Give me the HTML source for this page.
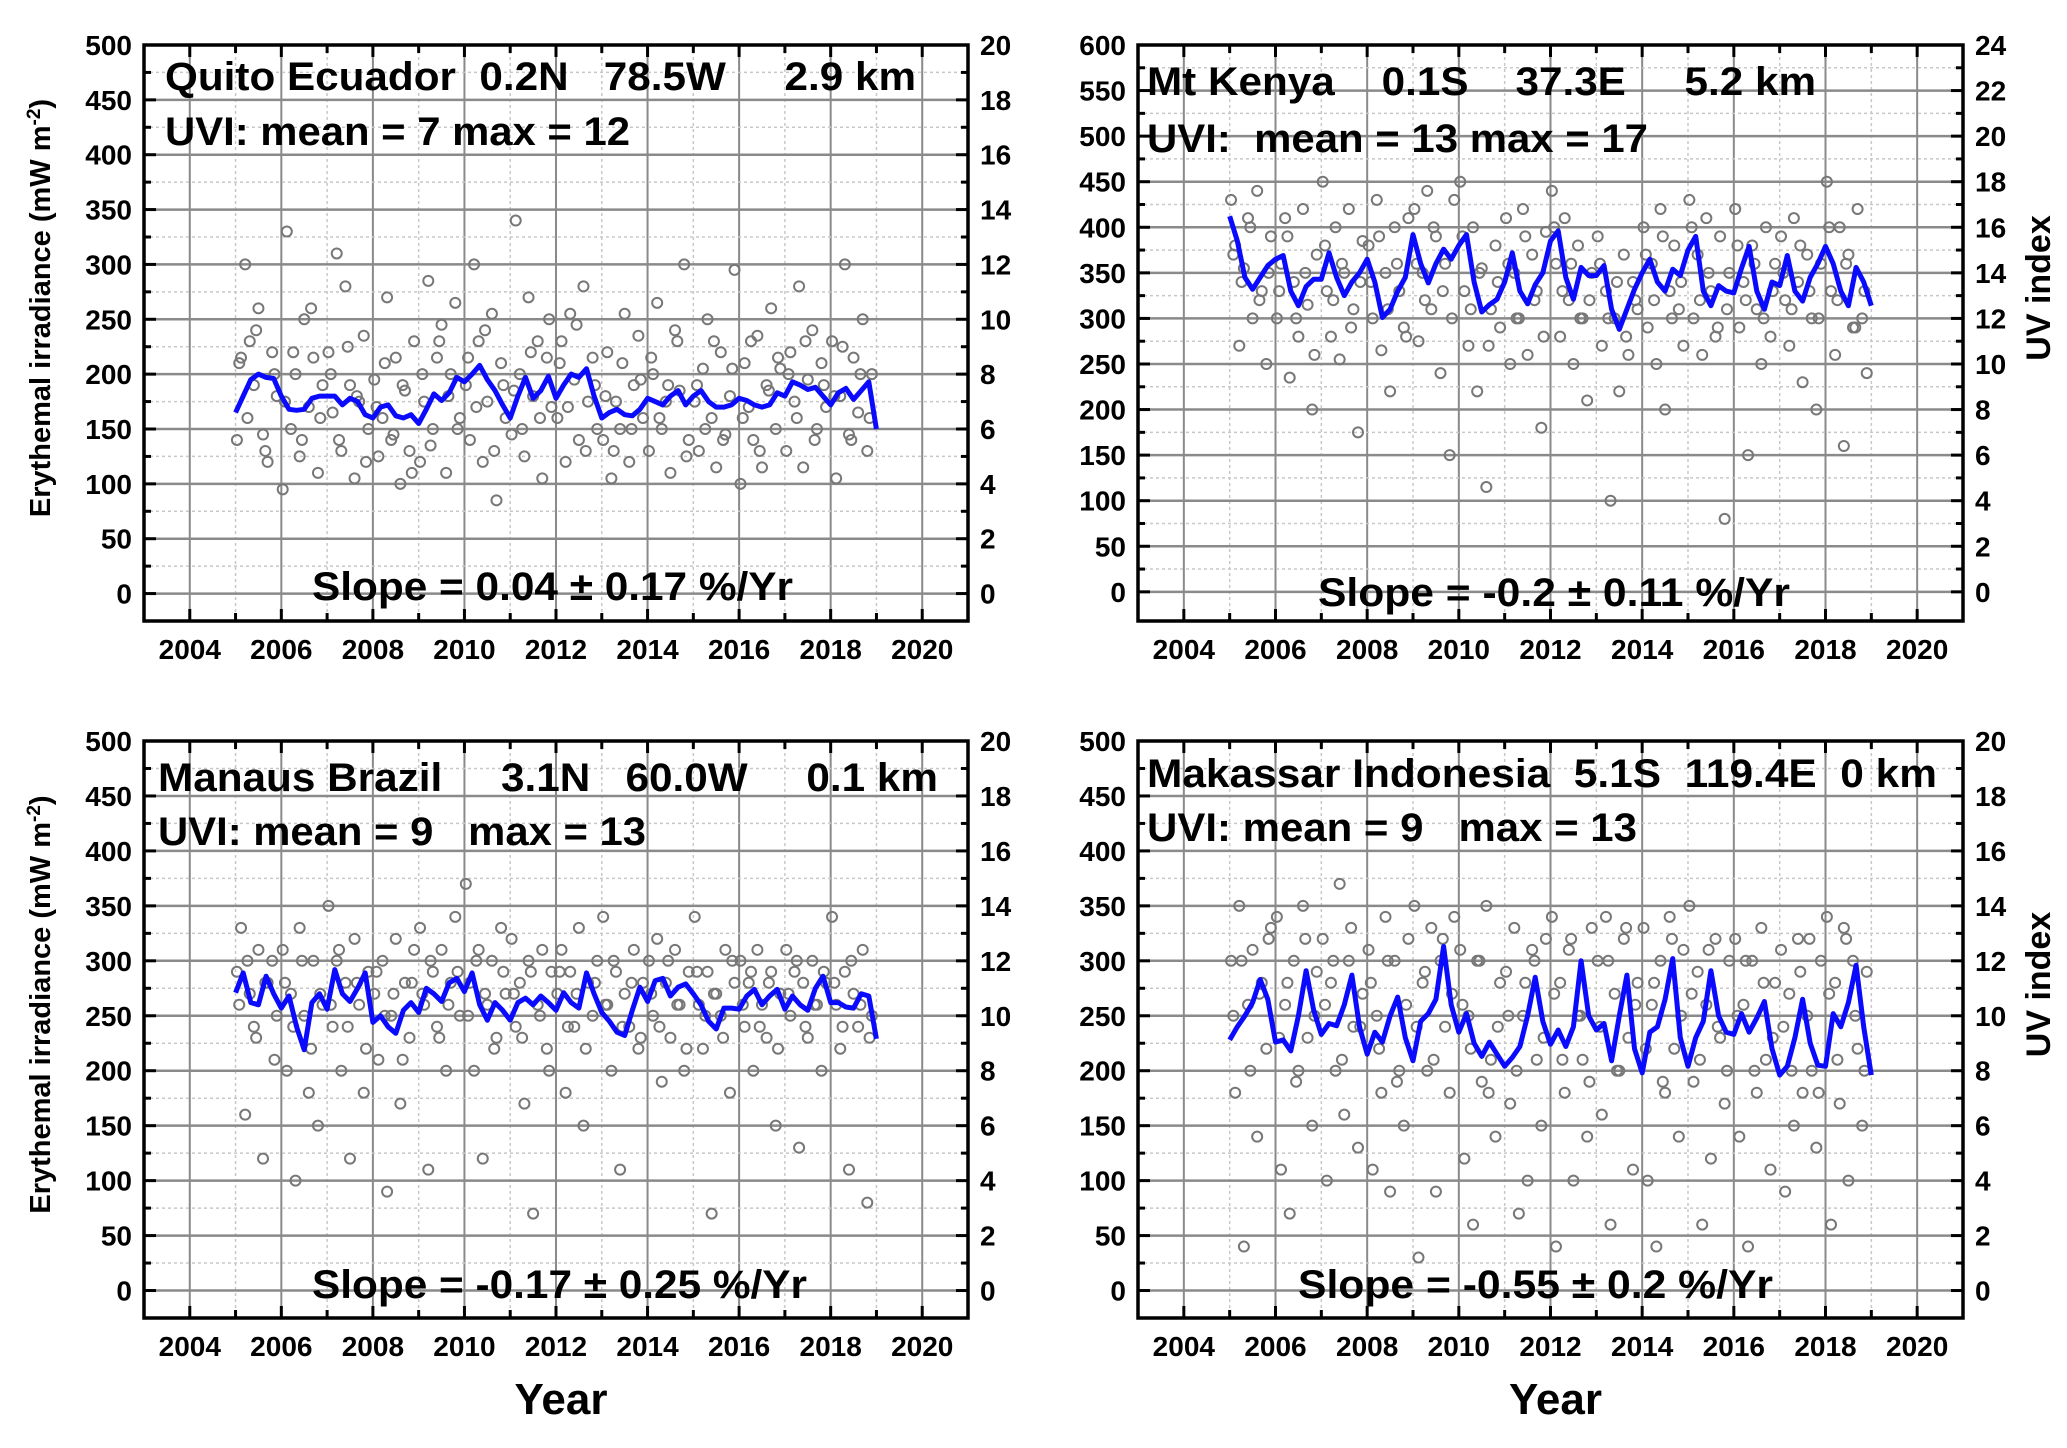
<!DOCTYPE html>
<html><head><meta charset="utf-8"><title>Erythemal irradiance time series</title>
<style>
html,body{margin:0;padding:0;background:#fff;}
svg{display:block;font-family:"Liberation Sans",Arial,sans-serif;font-weight:bold;}
</style></head>
<body>
<svg id="fig" width="2067" height="1448" viewBox="0 0 2067 1448" xmlns="http://www.w3.org/2000/svg">
<rect width="2067" height="1448" fill="#fff"/>
</svg>
<script>
// ---- shared time axes ----
const lineYears = [
2005.000,2005.167,2005.333,2005.500,2005.667,2005.833,
2006.000,2006.167,2006.333,2006.500,2006.667,2006.833,
2007.000,2007.167,2007.333,2007.500,2007.667,2007.833,
2008.000,2008.167,2008.333,2008.500,2008.667,2008.833,
2009.000,2009.167,2009.333,2009.500,2009.667,2009.833,
2010.000,2010.167,2010.333,2010.500,2010.667,2010.833,
2011.000,2011.167,2011.333,2011.500,2011.667,2011.833,
2012.000,2012.167,2012.333,2012.500,2012.667,2012.833,
2013.000,2013.167,2013.333,2013.500,2013.667,2013.833,
2014.000,2014.167,2014.333,2014.500,2014.667,2014.833,
2015.000,2015.167,2015.333,2015.500,2015.667,2015.833,
2016.000,2016.167,2016.333,2016.500,2016.667,2016.833,
2017.000,2017.167,2017.333,2017.500,2017.667,2017.833,
2018.000,2018.167,2018.333,2018.500,2018.667,2018.833,
2019.000];
const scatterYears = [
2005.03,2005.12,2005.21,2005.31,2005.40,2005.50,2005.60,2005.70,2005.80,2005.90,
2006.03,2006.12,2006.21,2006.31,2006.40,2006.50,2006.60,2006.70,2006.80,2006.90,
2007.03,2007.12,2007.21,2007.31,2007.40,2007.50,2007.60,2007.70,2007.80,2007.90,
2008.03,2008.12,2008.21,2008.31,2008.40,2008.50,2008.60,2008.70,2008.80,2008.90,
2009.03,2009.12,2009.21,2009.31,2009.40,2009.50,2009.60,2009.70,2009.80,2009.90,
2010.03,2010.12,2010.21,2010.31,2010.40,2010.50,2010.60,2010.70,2010.80,2010.90,
2011.03,2011.12,2011.21,2011.31,2011.40,2011.50,2011.60,2011.70,2011.80,2011.90,
2012.03,2012.12,2012.21,2012.31,2012.40,2012.50,2012.60,2012.70,2012.80,2012.90,
2013.03,2013.12,2013.21,2013.31,2013.40,2013.50,2013.60,2013.70,2013.80,2013.90,
2014.03,2014.12,2014.21,2014.31,2014.40,2014.50,2014.60,2014.70,2014.80,2014.90,
2015.03,2015.12,2015.21,2015.31,2015.40,2015.50,2015.60,2015.70,2015.80,2015.90,
2016.03,2016.12,2016.21,2016.31,2016.40,2016.50,2016.60,2016.70,2016.80,2016.90,
2017.03,2017.12,2017.21,2017.31,2017.40,2017.50,2017.60,2017.70,2017.80,2017.90,
2018.03,2018.12,2018.21,2018.31,2018.40,2018.50,2018.60,2018.70,2018.80,2018.90];
const scatterYears2 = [
2005.08,2005.26,2005.45,2005.65,2005.85,
2006.08,2006.26,2006.45,2006.65,2006.85,
2007.08,2007.26,2007.45,2007.65,2007.85,
2008.08,2008.26,2008.45,2008.65,2008.85,
2009.08,2009.26,2009.45,2009.65,2009.85,
2010.08,2010.26,2010.45,2010.65,2010.85,
2011.08,2011.26,2011.45,2011.65,2011.85,
2012.08,2012.26,2012.45,2012.65,2012.85,
2013.08,2013.26,2013.45,2013.65,2013.85,
2014.08,2014.26,2014.45,2014.65,2014.85,
2015.08,2015.26,2015.45,2015.65,2015.85,
2016.08,2016.26,2016.45,2016.65,2016.85,
2017.08,2017.26,2017.45,2017.65,2017.85,
2018.08,2018.26,2018.45,2018.65,2018.85];
const xTickYears = [2004,2006,2008,2010,2012,2014,2016,2018,2020];

// ---- Quito ----
const quitoLine = [165,180,195,200,197,196,180,168,167,168,178,180,180,180,172,178,175,163,160,170,172,162,160,163,155,168,182,176,183,197,193,200,208,195,185,172,160,180,197,178,185,198,178,190,200,197,205,180,160,165,168,163,162,168,178,175,172,180,185,172,180,185,175,170,170,172,178,176,172,170,172,183,180,193,190,186,188,180,172,183,187,177,185,193,150];
const quitoPoints = [140,215,300,230,190,260,145,120,220,180,95,330,150,200,125,250,170,215,110,190,220,165,310,130,280,190,105,175,235,150,195,125,160,270,140,215,100,185,130,230,120,175,285,150,215,245,110,200,265,160,190,140,300,230,120,175,255,85,210,160,145,340,200,125,270,180,230,105,215,170,160,230,120,255,195,140,280,175,215,150,140,220,105,175,150,255,120,190,235,160,130,200,265,150,175,110,240,185,300,140,175,130,205,250,160,115,220,145,180,295,100,210,170,140,235,115,190,260,150,205,130,220,175,280,115,195,240,150,210,170,230,105,180,300,145,215,165,250,130,200];
const quitoPoints2 = [210,160,240,130,200,175,220,140,260,160,200,140,225,180,120,170,210,145,190,110,200,135,230,180,150,215,170,240,130,190,185,150,220,160,250,210,170,245,130,190,180,130,210,150,195,215,160,190,230,125,190,150,230,140,205,160,230,130,185,215,200,160,230,140,190,180,225,140,200,160];
// ---- Mt Kenya ----
const kenyaLine = [412,385,345,332,345,358,365,369,330,314,335,343,343,372,345,325,340,350,365,340,301,310,330,345,392,360,339,360,376,365,380,392,340,307,315,321,340,372,330,316,337,350,385,396,345,321,356,347,347,358,310,288,310,332,350,365,340,330,354,347,375,390,330,314,336,330,328,355,379,330,310,340,336,369,330,319,345,360,379,360,330,314,356,340,314];
const kenyaPoints = [430,380,270,355,410,300,440,330,250,390,300,360,410,235,340,280,420,315,200,370,450,330,280,400,255,350,420,310,175,385,380,300,430,265,350,220,400,330,290,410,420,275,350,440,310,390,240,360,150,430,450,330,270,400,220,355,115,310,380,290,410,250,350,300,420,260,370,330,180,395,440,360,280,410,320,250,380,300,210,350,390,270,330,100,300,220,370,260,340,310,400,290,360,250,420,200,330,380,310,270,430,300,370,260,410,330,280,390,80,350,420,290,340,150,380,310,250,400,280,360,390,320,270,410,340,230,370,300,200,360,450,330,260,400,160,370,290,420,300,240];
const kenyaPoints2 = [370,340,400,320,350,330,390,300,350,260,380,320,360,290,340,340,390,310,360,280,360,320,400,330,300,390,310,350,270,340,360,300,390,320,280,400,330,360,300,320,360,300,340,280,320,370,320,390,300,340,400,320,350,290,310,380,320,360,300,330,350,310,380,330,300,400,320,360,290,330];
// ---- Manaus ----
const manausLine = [271,289,262,260,286,270,257,268,240,219,262,270,256,292,270,263,275,289,244,250,240,234,255,262,253,275,270,263,280,284,272,289,260,246,262,255,246,262,266,260,268,262,255,271,262,257,289,270,253,245,235,232,255,276,263,282,284,268,276,279,270,260,245,238,257,257,256,268,274,260,268,274,256,268,260,255,275,286,262,262,258,257,270,268,229];
const manausPoints = [290,330,160,270,240,310,120,280,300,250,310,200,270,100,330,250,180,300,150,260,350,240,300,200,280,120,320,260,180,290,270,210,300,90,250,320,170,280,230,310,330,260,110,290,240,310,200,280,340,250,370,280,200,310,120,260,300,230,330,270,320,240,280,170,300,70,260,310,220,290,270,310,180,290,240,330,150,280,250,300,340,260,200,290,110,270,240,310,220,280,300,250,320,190,280,230,310,260,200,290,340,260,220,290,70,270,250,310,180,280,300,240,280,200,310,260,230,290,150,270,310,250,290,130,280,230,300,260,200,280,340,260,220,290,110,270,240,310,80,250];
const manausPoints2 = [260,300,230,280,210,280,240,300,220,270,260,310,240,280,220,290,250,270,210,280,270,300,230,260,290,250,300,270,220,290,270,230,290,250,200,290,240,270,220,280,260,300,240,280,230,270,240,300,260,220,290,250,270,230,300,260,290,240,280,220,270,300,240,260,290,280,240,300,260,230];
// ---- Makassar ----
const makassarLine = [228,240,250,262,283,265,226,228,218,250,291,255,233,243,241,260,287,240,215,235,226,250,267,230,209,245,252,265,313,260,235,252,225,213,226,215,204,212,222,250,285,245,224,237,222,240,300,250,237,243,209,250,287,220,198,235,240,265,302,230,204,230,245,291,250,235,233,252,235,248,263,220,196,204,230,265,225,205,204,252,240,262,296,240,196];
const makassarPoints = [300,180,350,40,260,310,140,280,220,330,340,110,260,70,300,200,350,230,150,290,320,100,280,200,370,160,300,240,130,270,310,110,250,180,340,90,300,200,150,320,350,30,280,200,330,90,300,240,180,340,310,120,250,60,300,190,350,210,140,280,290,170,330,70,250,100,310,210,150,320,340,40,280,180,310,100,250,210,140,330,300,160,340,60,270,200,320,230,110,280,330,100,260,40,300,180,340,220,140,310,350,190,290,60,260,120,320,230,170,300,320,140,260,40,300,180,330,210,110,280,310,90,270,150,320,180,250,200,130,300,340,60,280,170,330,100,300,220,150,290];
const makassarPoints2 = [250,300,200,270,320,230,280,190,320,250,260,300,210,330,240,280,220,300,190,260,240,290,210,320,270,260,220,300,180,240,250,200,280,300,230,270,210,320,250,190,240,300,200,330,260,220,280,190,320,250,270,210,310,240,200,250,300,200,280,230,240,200,290,320,180,270,210,320,250,200];

const quitoLeftTicks = [0,50,100,150,200,250,300,350,400,450,500];
const kenyaLeftTicks = [0,50,100,150,200,250,300,350,400,450,500,550,600];
const uviTicks20 = [0,2,4,6,8,10,12,14,16,18,20];
const uviTicks24 = [0,2,4,6,8,10,12,14,16,18,20,22,24];

const NS = 'http://www.w3.org/2000/svg';
const svg = document.getElementById('fig');
function el(tag, attrs, parent, txt){
  const e = document.createElementNS(NS, tag);
  for (const k in attrs) e.setAttribute(k, attrs[k]);
  if (txt !== undefined) e.textContent = txt;
  (parent || svg).appendChild(e);
  return e;
}

const panels = [
 {key:'quito', x0:144, x1:968, y0:45, y1:621, ymin:-25, ymax:500, left:quitoLeftTicks, right:uviTicks20, line:quitoLine, pts:quitoPoints, pts2:quitoPoints2,
  title:'Quito Ecuador  0.2N   78.5W     2.9 km', tx:165, ty:90, tl:751,
  uvi:'UVI: mean = 7 max = 12', ux:165, uy:145, ul:465,
  slope:'Slope = 0.04 \u00b1 0.17 %/Yr', sx:312, sy:600, sl:481, leftTitle:true, rightTitle:false, year:false},
 {key:'kenya', x0:1138, x1:1963, y0:45, y1:621, ymin:-32, ymax:600, left:kenyaLeftTicks, right:uviTicks24, line:kenyaLine, pts:kenyaPoints, pts2:kenyaPoints2,
  title:'Mt Kenya    0.1S    37.3E     5.2 km', tx:1147, ty:95, tl:669,
  uvi:'UVI:  mean = 13 max = 17', ux:1147, uy:152, ul:501,
  slope:'Slope = -0.2 \u00b1 0.11 %/Yr', sx:1318, sy:606, sl:472, leftTitle:false, rightTitle:true, year:false},
 {key:'manaus', x0:144, x1:968, y0:741, y1:1318, ymin:-25, ymax:500, left:quitoLeftTicks, right:uviTicks20, line:manausLine, pts:manausPoints, pts2:manausPoints2,
  title:'Manaus Brazil     3.1N   60.0W     0.1 km', tx:158, ty:791, tl:780,
  uvi:'UVI: mean = 9   max = 13', ux:158, uy:845, ul:488,
  slope:'Slope = -0.17 \u00b1 0.25 %/Yr', sx:312, sy:1298, sl:495, leftTitle:true, rightTitle:false, year:true},
 {key:'makassar', x0:1138, x1:1963, y0:741, y1:1318, ymin:-25, ymax:500, left:quitoLeftTicks, right:uviTicks20, line:makassarLine, pts:makassarPoints, pts2:makassarPoints2,
  title:'Makassar Indonesia  5.1S  119.4E  0 km', tx:1147, ty:787, tl:790,
  uvi:'UVI: mean = 9   max = 13', ux:1147, uy:841, ul:490,
  slope:'Slope = -0.55 \u00b1 0.2 %/Yr', sx:1298, sy:1298, sl:475, leftTitle:false, rightTitle:true, year:true}
];

panels.forEach(p => {
  const g = el('g', {});
  
  
  const X = v => p.x0 + (v - 2003) / 18 * (p.x1 - p.x0);
  const Y = v => p.y1 - (v - p.ymin) / (p.ymax - p.ymin) * (p.y1 - p.y0);
  for (let yr = 2004; yr <= 2020; yr++) {
    const ln = el('line', {x1:X(yr), x2:X(yr), y1:p.y0, y2:p.y1, stroke: yr%2===0 ? '#8a8a8a' : '#c8c8c8', 'stroke-width': yr%2===0 ? 2 : 1.5, 'stroke-dasharray': yr%2===0 ? '' : '3,3'}, g);
    
    
  }
  for (let v = 0; v <= p.ymax; v += 25) {
    const major = v % 50 === 0;
    const ln = el('line', {x1:p.x0, x2:p.x1, y1:Y(v), y2:Y(v), stroke: major ? '#8a8a8a' : '#c8c8c8', 'stroke-width': major ? 2.5 : 1.5, 'stroke-dasharray': major ? '' : '3,3'}, g);
    
    
    const tl = major ? 12 : 7;
    el('line', {x1:p.x0, x2:p.x0+tl, y1:Y(v), y2:Y(v), stroke:'#000', 'stroke-width':3}, g);
    el('line', {x1:p.x1-tl, x2:p.x1, y1:Y(v), y2:Y(v), stroke:'#000', 'stroke-width':3}, g);
  }
  for (let yr = 2004; yr <= 2020; yr++) {
    const tl = yr%2===0 ? 12 : 8;
    el('line', {x1:X(yr), x2:X(yr), y1:p.y1, y2:p.y1-tl, stroke:'#000', 'stroke-width':3}, g);
    el('line', {x1:X(yr), x2:X(yr), y1:p.y0, y2:p.y0+tl, stroke:'#000', 'stroke-width':3}, g);
  }
  p.pts.forEach((v, i) => {
    const c = el('circle', {cx:X(scatterYears[i]), cy:Y(v), r:5, fill:'none', stroke:'#777', 'stroke-width':2}, g);
    
    
  });
  p.pts2.forEach((v, i) => {
    const c = el('circle', {cx:X(scatterYears2[i]), cy:Y(v), r:5, fill:'none', stroke:'#777', 'stroke-width':2}, g);
    
    
  });
  const d = p.line.map((v, i) => (i ? 'L' : 'M') + X(lineYears[i]).toFixed(1) + ',' + Y(v).toFixed(1)).join(' ');
  const path = el('path', {d:d, fill:'none', stroke:'#0a0aff', 'stroke-width':5, 'stroke-linejoin':'round'}, g);
  
  
  const fr = el('rect', {x:p.x0, y:p.y0, width:p.x1-p.x0, height:p.y1-p.y0, fill:'none', stroke:'#000', 'stroke-width':3.5}, g);
  
  
  p.left.forEach(v => {
    const t = el('text', {x:p.x0-12, y:Y(v)+10, 'text-anchor':'end', 'font-size':28}, g, String(v));
    
    
  });
  p.right.forEach(u => {
    const t = el('text', {x:p.x1+12, y:Y(u*25)+10, 'font-size':28}, g, String(u));
    
    
  });
  xTickYears.forEach(yr => {
    const t = el('text', {x:X(yr), y:p.y1+38, 'text-anchor':'middle', 'font-size':28}, g, String(yr));
    
    
  });
  const t1 = el('text', {x:p.tx, y:p.ty, 'font-size':40, textLength:p.tl, lengthAdjust:'spacingAndGlyphs', style:'white-space:pre'}, g, p.title);
  
  
  const t2 = el('text', {x:p.ux, y:p.uy, 'font-size':40, textLength:p.ul, lengthAdjust:'spacingAndGlyphs', style:'white-space:pre'}, g, p.uvi);
  
  
  const t3 = el('text', {x:p.sx, y:p.sy, 'font-size':40, textLength:p.sl, lengthAdjust:'spacingAndGlyphs'}, g, p.slope);
  
  
  if (p.leftTitle) {
    const cy = (p.y0 + p.y1) / 2 - 25;
    const t = el('text', {x:0, y:0, transform:'translate(50,' + cy + ') rotate(-90)', 'text-anchor':'middle', 'font-size':29}, g);
    
    
    el('tspan', {}, t, 'Erythemal irradiance (mW m');
    el('tspan', {dy:-10, 'font-size':19}, t, '-2');
    el('tspan', {dy:10}, t, ')');
  }
  if (p.rightTitle) {
    const cy = (p.y0 + p.y1) / 2 - 45;
    const t = el('text', {x:0, y:0, transform:'translate(2050,' + cy + ') rotate(-90)', 'text-anchor':'middle', 'font-size':34}, g, 'UV index');
    
    
  }
  if (p.year) {
    const t = el('text', {x:(p.x0+p.x1)/2 + 5, y:1414, 'text-anchor':'middle', 'font-size':44}, g, 'Year');
    
    
  }
});
</script>
</body></html>
